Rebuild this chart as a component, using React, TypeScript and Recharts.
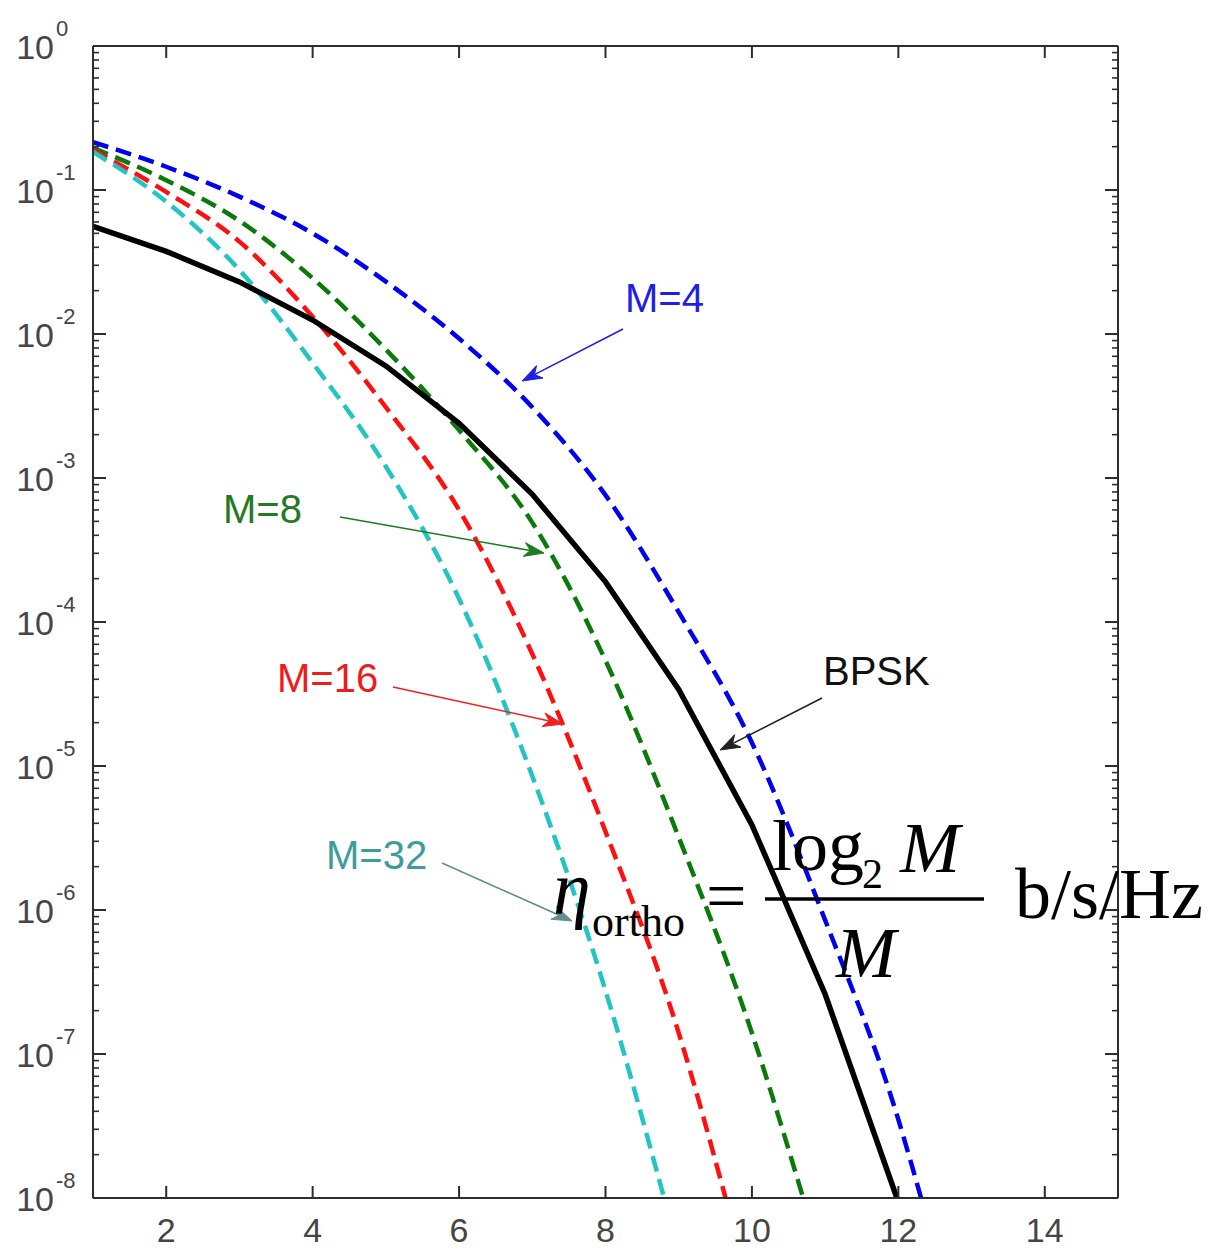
import React from 'react';
import { LineChart, Line, XAxis, YAxis } from 'recharts';

// ---- axis ticks ----
const xTicks = [2, 4, 6, 8, 10, 12, 14];
const yMajorTicks = [1e-8, 1e-7, 1e-6, 1e-5, 1e-4, 1e-3, 1e-2, 1e-1, 1];
const yMinorMultipliers = [2, 3, 4, 5, 6, 7, 8, 9];

// ---- series (Eb/N0 in dB, bit error probability) ----
const snrBpsk = [1, 2, 3, 4, 5, 6, 7, 8, 9, 10, 11, 11.98];
const berBpsk = [5.6e-2, 3.75e-2, 2.3e-2, 1.25e-2, 6.0e-3, 2.4e-3, 7.7e-4, 1.9e-4, 3.4e-5, 3.9e-6, 2.6e-7, 1e-8];

const snrM4 = [1, 2, 3, 4, 5, 6, 7, 8, 9, 10, 11, 12, 12.31];
const berM4 = [0.215, 0.145, 0.09, 0.05, 0.0231, 9.3e-3, 3.1e-3, 7.6e-4, 1.17e-4, 1.45e-5, 8.5e-7, 3.5e-8, 1e-8];

const snrM8 = [1, 2, 3, 4, 5, 6, 7, 8, 9, 10, 10.7];
const berM8 = [0.196, 0.117, 0.061, 0.0244, 7.8e-3, 2.15e-3, 4.9e-4, 5.4e-5, 3.2e-6, 1.4e-7, 1e-8];

const snrM16 = [1, 2, 3, 4, 5, 6, 7, 8, 9, 9.64];
const berM16 = [0.19, 0.097, 0.0438, 0.0132, 3.1e-3, 6.0e-4, 6.0e-5, 3.5e-6, 1.4e-7, 1e-8];

const snrM32 = [1, 2, 3, 4, 5, 6, 7, 8, 8.8];
const berM32 = [0.184, 0.083, 0.0278, 6.3e-3, 1.2e-3, 1.45e-4, 8.5e-6, 2.75e-7, 1e-8];

const zip = (xs: number[], ys: number[]) => xs.map((x, i) => ({ x, y: ys[i] }));

const dataBpsk = zip(snrBpsk, berBpsk);
const dataM4 = zip(snrM4, berM4);
const dataM8 = zip(snrM8, berM8);
const dataM16 = zip(snrM16, berM16);
const dataM32 = zip(snrM32, berM32);

const yTicks: number[] = [];
yMajorTicks.forEach((t, i) => {
  yTicks.push(t);
  if (i < yMajorTicks.length - 1) yMinorMultipliers.forEach((m) => yTicks.push(m * t));
});

const FRAME = '#2d2d2d';
const LABEL = '#454545';
const SANS = '"Liberation Sans", Arial, Helvetica, sans-serif';
const SERIF = '"Liberation Serif", "Times New Roman", Times, serif';

const isMajor = (v: number) => Math.abs(Math.log10(v) - Math.round(Math.log10(v))) < 1e-6;

const BottomTick = (p: any) => {
  const { x, y, payload } = p;
  return (
    <g>
      <line x1={x} y1={y} x2={x} y2={y - 12} stroke={FRAME} strokeWidth={2} />
      <text x={x} y={y + 44} textAnchor="middle" fontSize={34} fill={LABEL} fontFamily={SANS}>
        {payload.value}
      </text>
    </g>
  );
};

const TopTick = (p: any) => {
  const { x, y } = p;
  return <line x1={x} y1={y} x2={x} y2={y + 12} stroke={FRAME} strokeWidth={2} />;
};

const LeftTick = (p: any) => {
  const { x, y, payload } = p;
  const v = payload.value as number;
  if (!isMajor(v)) {
    return <line x1={x} y1={y} x2={x + 6} y2={y} stroke={FRAME} strokeWidth={1.6} />;
  }
  const e = Math.round(Math.log10(v));
  return (
    <g>
      <line x1={x} y1={y} x2={x + 13} y2={y} stroke={FRAME} strokeWidth={2} />
      <text x={x - 39} y={y + 13} textAnchor="end" fontSize={34} fill={LABEL} fontFamily={SANS}>
        10
      </text>
      <text x={x - 37} y={y - 10} textAnchor="start" fontSize={22} fill={LABEL} fontFamily={SANS}>
        {e === 0 ? '0' : `-${Math.abs(e)}`}
      </text>
    </g>
  );
};

const RightTick = (p: any) => {
  const { x, y, payload } = p;
  const v = payload.value as number;
  const len = isMajor(v) ? 13 : 6;
  return <line x1={x} y1={y} x2={x - len} y2={y} stroke={FRAME} strokeWidth={isMajor(v) ? 2 : 1.6} />;
};

const Arrow = ({ x1, y1, x2, y2, color, head = 20, hw = 7 }: any) => {
  const dx = x2 - x1;
  const dy = y2 - y1;
  const L = Math.hypot(dx, dy);
  const ux = dx / L;
  const uy = dy / L;
  const bx = x2 - ux * head;
  const by = y2 - uy * head;
  const nx = x2 - ux * head * 0.7;
  const ny = y2 - uy * head * 0.7;
  const px = -uy;
  const py = ux;
  const pts = `${x2},${y2} ${bx + px * hw},${by + py * hw} ${nx},${ny} ${bx - px * hw},${by - py * hw}`;
  return (
    <g>
      <line x1={x1} y1={y1} x2={nx} y2={ny} stroke={color} strokeWidth={1.6} />
      <polygon points={pts} fill={color} stroke={color} strokeWidth={1} />
    </g>
  );
};

const W = 1222;
const H = 1240;
const DASH = '16 8';

export default function App() {
  return (
    <div style={{ position: 'relative', width: W, height: H, background: '#fff' }}>
      <LineChart width={W} height={H} margin={{ top: 37, right: 111, bottom: 0, left: 0 }}>
        <XAxis
          xAxisId="bottom"
          dataKey="x"
          type="number"
          domain={[1, 15]}
          allowDataOverflow
          ticks={xTicks}
          interval={0}
          height={50}
          tickSize={0}
          tickMargin={0}
          tickLine={false}
          axisLine={{ stroke: FRAME, strokeWidth: 2 }}
          tick={<BottomTick />}
        />
        <XAxis
          xAxisId="top"
          orientation="top"
          dataKey="x"
          type="number"
          domain={[1, 15]}
          allowDataOverflow
          ticks={xTicks}
          interval={0}
          height={1}
          tickSize={0}
          tickMargin={0}
          tickLine={false}
          axisLine={{ stroke: FRAME, strokeWidth: 2 }}
          tick={<TopTick />}
        />
        <YAxis
          yAxisId="left"
          scale="log"
          type="number"
          domain={[1e-8, 1]}
          allowDataOverflow
          ticks={yTicks}
          interval={0}
          width={85}
          tickSize={0}
          tickMargin={0}
          tickLine={false}
          axisLine={{ stroke: FRAME, strokeWidth: 2 }}
          tick={<LeftTick />}
        />
        <YAxis
          yAxisId="right"
          orientation="right"
          scale="log"
          type="number"
          domain={[1e-8, 1]}
          allowDataOverflow
          ticks={yTicks}
          interval={0}
          width={1}
          tickSize={0}
          tickMargin={0}
          tickLine={false}
          axisLine={{ stroke: FRAME, strokeWidth: 2 }}
          tick={<RightTick />}
        />
        <Line xAxisId="top" yAxisId="right" data={dataBpsk} dataKey="y" stroke="none" dot={false} isAnimationActive={false} />
        <Line xAxisId="bottom" yAxisId="left" data={dataM4} dataKey="y" type="monotone" stroke="#0000ee" strokeWidth={4.5} strokeDasharray={DASH} dot={false} isAnimationActive={false} />
        <Line xAxisId="bottom" yAxisId="left" data={dataM8} dataKey="y" type="monotone" stroke="#0b7a0b" strokeWidth={4.5} strokeDasharray={DASH} dot={false} isAnimationActive={false} />
        <Line xAxisId="bottom" yAxisId="left" data={dataM16} dataKey="y" type="monotone" stroke="#ff1010" strokeWidth={4.5} strokeDasharray={DASH} dot={false} isAnimationActive={false} />
        <Line xAxisId="bottom" yAxisId="left" data={dataM32} dataKey="y" type="monotone" stroke="#22c4c4" strokeWidth={4.5} strokeDasharray={DASH} dot={false} isAnimationActive={false} />
        <Line xAxisId="bottom" yAxisId="left" data={dataBpsk} dataKey="y" type="linear" stroke="#000" strokeWidth={5.5} dot={false} isAnimationActive={false} />
      </LineChart>
      <svg width={W} height={H} style={{ position: 'absolute', left: 0, top: 0, pointerEvents: 'none' }}>
        <g transform="translate(-8,-8)">
          <text x={625} y={312} fontSize={40} fill="#1e1ee6" fontFamily={SANS}>M=4</text>
          <Arrow x1={623} y1={329} x2={522} y2={381} color="#2020e0" />
          <text x={223} y={523} fontSize={40} fill="#237a23" fontFamily={SANS}>M=8</text>
          <Arrow x1={340} y1={517} x2={544} y2={553} color="#1d7d1d" />
          <text x={277} y={692} fontSize={40} fill="#ee1c1c" fontFamily={SANS}>M=16</text>
          <Arrow x1={393} y1={687} x2={563} y2={724} color="#ee2020" />
          <text x={326} y={869} fontSize={40} fill="#3f9c9c" fontFamily={SANS}>M=32</text>
          <Arrow x1={442} y1={863} x2={572} y2={921} color="#5f8f8f" />
          <text x={823} y={685} fontSize={40} fill="#111" fontFamily={SANS}>BPSK</text>
          <Arrow x1={822} y1={698} x2={720} y2={750} color="#222" />

          <text x={553} y={914} fontSize={76} fontStyle="italic" fontFamily={SERIF} fill="#000">η</text>
          <text x={592} y={936} fontSize={44} fontFamily={SERIF} fill="#000">ortho</text>
          <text x={706} y={920} fontSize={72} fontFamily={SERIF} fill="#000">=</text>
          <line x1={765} y1={899} x2={984} y2={899} stroke="#000" strokeWidth={3.5} />
          <text x={772} y={870} fontSize={72} fontFamily={SERIF} fill="#000">log</text>
          <text x={862} y={888} fontSize={42} fontFamily={SERIF} fill="#000">2</text>
          <text x={900} y={872} fontSize={72} fontStyle="italic" fontFamily={SERIF} fill="#000">M</text>
          <text x={836} y={977} fontSize={72} fontStyle="italic" fontFamily={SERIF} fill="#000">M</text>
          <text x={1015} y={918} fontSize={72} fontFamily={SERIF} fill="#000">b/s/Hz</text>
        </g>
      </svg>
    </div>
  );
}
